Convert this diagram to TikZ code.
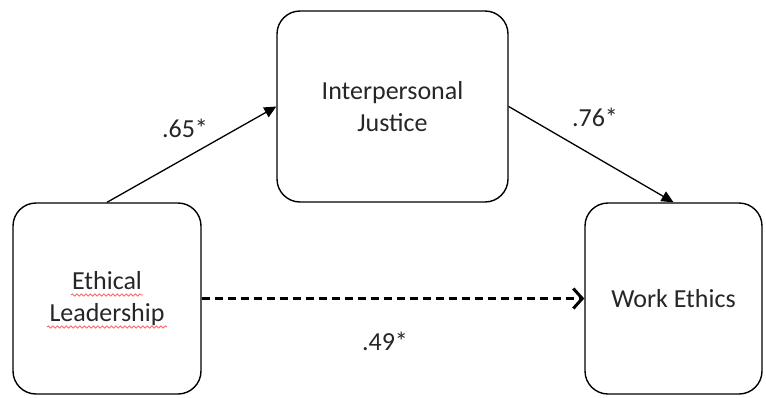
\documentclass[tikz,border=0pt]{standalone}
\usepackage{fontspec}
\setmainfont{Carlito}
\usetikzlibrary{arrows.meta,calc,decorations.pathmorphing}

\tikzset{
  factor/.style={draw, line width=1.4pt, rounded corners=23pt, minimum width=#1,
    minimum height=191pt, inner sep=0pt, align=center, text=black!85,
    font=\fontsize{26}{32.5}\selectfont},
  coef/.style={inner sep=0pt, text=black!85, font=\fontsize{26}{30}\selectfont},
  effect/.style={line width=1.3pt, -{Triangle[length=12pt,width=11pt]}},
  direct/.style={line width=3pt, dash pattern=on 8pt off 5pt,
    -{Straight Barb[length=9pt,width=20pt]}},
  spellmark/.style={draw=red!60, line width=0.9pt,
    decorate, decoration={snake, segment length=4.5pt, amplitude=1.1pt}}
}

\begin{document}
\begin{tikzpicture}[x=1pt,y=-1pt]
    \useasboundingbox (0,0) rectangle (766,397);

    \node[factor=188pt] at (107,298.5) (EL) {Ethical\\Leadership};
    \node[factor=231pt] at (392.5,106.5) (IJ) {Interpersonal\\Justice};
    \node[factor=177pt] at (673.5,298.5) (WE) {Work Ethics};

    \node[coef] at (185,128) (aPath) {.65*};
    \node[coef] at (595,117) (bPath) {.76*};
    \node[coef] at (385,341) (cPath) {.49*};

    \draw[effect] (EL.north) to (IJ.west);
    \draw[effect] (IJ.east) to (WE.north);
    \draw[direct] (EL.east) to (WE.west);

    % spell check marks under the words
    \path[spellmark] ($(EL.center)+(-36,-3.5)$) -- ++(72,0);
    \path[spellmark] ($(EL.center)+(-60,28.5)$) -- ++(120,0);
  \end{tikzpicture}
\end{document}
